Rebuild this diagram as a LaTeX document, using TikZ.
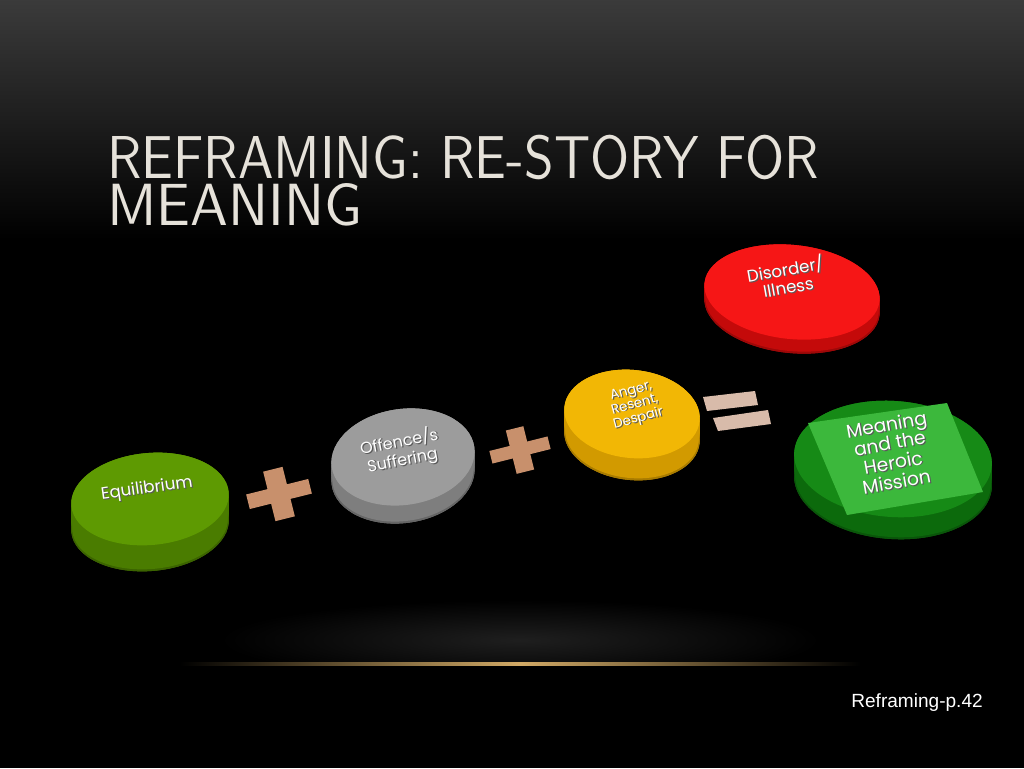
\documentclass[tikz,border=0pt]{standalone}
\usepackage{fontspec}
\setmainfont{Liberation Sans}
\newfontfamily\titlefont{Latin Modern Sans}
\newfontfamily\discfont{Poppins}
\usetikzlibrary{calc}
\definecolor{titlecol}{HTML}{E6E2DA}
\definecolor{tan}{HTML}{C8906C}
\definecolor{eqcol}{HTML}{D8BBAA}
\definecolor{goldline}{HTML}{D2AA66}
\definecolor{gtop}{HTML}{5E9A02}
\definecolor{gside}{HTML}{4A7C00}
\definecolor{stop}{HTML}{9C9C9C}
\definecolor{sside}{HTML}{7E7E7E}
\definecolor{ytop}{HTML}{F2B705}
\definecolor{yside}{HTML}{D29A00}
\definecolor{rtop}{HTML}{F61616}
\definecolor{rside}{HTML}{C40A0A}
\definecolor{mtop}{HTML}{168A16}
\definecolor{mside}{HTML}{0C6A0C}
\definecolor{msq}{HTML}{3CB83C}
\newcommand\mydisc[8]{%
  \foreach \k in {0,2,...,#6}{\fill[#8,rotate around={#5:(#1,#2+\k)}] (#1,#2+\k) ellipse [x radius=#3, y radius=#4];}
  \fill[#8!80!black,rotate around={#5:(#1,#2+#6)}] (#1,#2+#6) ellipse [x radius=#3, y radius=#4];
  \foreach \k in {0,2,...,#6}{\fill[#8,rotate around={#5:(#1,#2+\k-1)}] (#1,#2+\k-1) ellipse [x radius=#3-1, y radius=#4-1];}
  \fill[#7,rotate around={#5:(#1,#2)}] (#1,#2) ellipse [x radius=#3, y radius=#4];
}
\newcommand\shtext[1]{\leavevmode\rlap{\kern0.8pt\raisebox{-0.8pt}{\color{black!65}\begin{tabular}{@{}c@{}}#1\end{tabular}}}{\color{white}\begin{tabular}{@{}c@{}}#1\end{tabular}}}
\tikzset{
  title/.style={anchor=base west, text=titlecol, font=\titlefont, inner sep=0pt},
  disctext/.style={inner sep=0pt},
}
\begin{document}
\begin{tikzpicture}[x=0.75pt,y=-0.75pt]
\useasboundingbox (0,0) rectangle (1024,768);
% background
\fill[black] (0,0) rectangle (1024,768);
\shade[top color=black!77, bottom color=black] (0,0) rectangle (1024,240);
\shade[inner color=black!88, outer color=black] (520,640) ellipse [x radius=300, y radius=40];
\fill[black] (0,663) rectangle (1024,768);
\shade[left color=black, right color=black, middle color=goldline] (180,662) rectangle (860,665);
% title
\node[title] (t1) at (107,178) {\resizebox{534pt}{32.5pt}{REFRAMING: RE-STORY FOR}};
\node[title] (t2) at (107,225) {\resizebox{191pt}{31.5pt}{MEANING}};
% discs
\mydisc{150}{499}{79}{46}{5}{26}{gtop}{gside}
\mydisc{403}{457}{72}{48}{8}{18}{stop}{sside}
\mydisc{632}{414}{68}{44}{-6}{22}{ytop}{yside}
\mydisc{792}{292}{88}{47}{-6}{14}{rtop}{rside}
\mydisc{893}{459}{99}{58}{-4}{22}{mtop}{mside}
% green square
\fill[msq] (808,423) -- (947,403) -- (983,492) -- (847,515) -- cycle;
% plus signs
\begin{scope}[shift={(279,494)},rotate=14,yscale=0.75]
 \fill[tan] (-32,-10) rectangle (32,10);
 \fill[tan] (-10,-34) rectangle (10,34);
\end{scope}
\begin{scope}[shift={(520,450)},rotate=14,yscale=0.72]
 \fill[tan] (-30,-9) rectangle (30,9);
 \fill[tan] (-9,-31) rectangle (9,31);
\end{scope}
% equals
\fill[eqcol] (703,397) -- (755,391) -- (758,405) -- (707,411) -- cycle;
\fill[eqcol] (713,418) -- (768,410) -- (771,424) -- (718,431) -- cycle;
% disc texts
\node[disctext,font=\discfont\fontsize{12.5}{13}\selectfont,rotate=8] (e1) at (147,490) {\shtext{Equilibrium}};
\node[disctext,font=\discfont\fontsize{12}{14}\selectfont,rotate=11] (o1) at (401,452) {\shtext{Offence/s\\Suffering}};
\node[disctext,font=\discfont\fontsize{10}{10.5}\selectfont,rotate=15] (a1) at (635,406) {\shtext{Anger,\\Resent,\\Despair}};
\node[disctext,font=\discfont\fontsize{12.5}{13.5}\selectfont,rotate=10] (d1) at (787,280) {\shtext{Disorder/\\Illness}};
\node[disctext,font=\discfont\fontsize{14}{13.5}\selectfont,rotate=10] (m1) at (892,456) {\shtext{Meaning\\and the\\Heroic\\Mission}};
% footer
\node[text=white, font=\fontsize{14.3}{14.3}\selectfont, anchor=base east, inner sep=0pt] (f) at (983,707) {Reframing-p.42};
\end{tikzpicture}
\end{document}
